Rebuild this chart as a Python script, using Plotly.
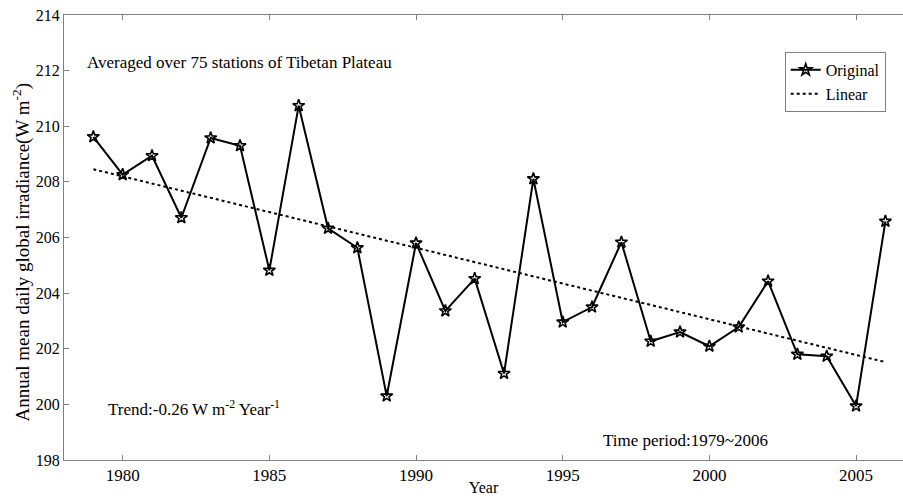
import numpy as np
import plotly.graph_objects as go

# Annual mean daily global irradiance, Tibetan Plateau average (W m-2)
years = list(range(1979, 2007))
irradiance = [
    209.62, 208.26, 208.94, 206.71, 209.58, 209.30, 204.82, 210.74,
    206.33, 205.63, 200.30, 205.80, 203.36, 204.52, 201.11, 208.11,
    202.96, 203.50, 205.83, 202.27, 202.60, 202.09, 202.78, 204.43,
    201.80, 201.73, 199.94, 206.58,
]

y_ticks = [198, 200, 202, 204, 206, 208, 210, 212, 214]
x_ticks = [1980, 1985, 1990, 1995, 2000, 2005]

# least-squares linear trend
slope, intercept = np.polyfit(years, irradiance, 1)
trend = [slope * yr + intercept for yr in years]

FONT = "'Liberation Serif', 'Times New Roman', Times, serif"
AXIS_GRAY = "#7f7f7f"

fig = go.Figure()
fig.add_trace(go.Scatter(
    x=years, y=irradiance, mode="lines+markers", name="Original",
    line=dict(color="black", width=2),
    marker=dict(symbol="star-open", size=9, color="black",
                line=dict(color="black", width=1.6)),
))
fig.add_trace(go.Scatter(
    x=years, y=trend, mode="lines", name="Linear",
    line=dict(color="black", width=2, dash="dot"),
))

fig.add_annotation(text="Averaged over 75 stations of Tibetan Plateau",
                   xref="paper", yref="paper", x=0.025, y=0.894,
                   xanchor="left", yanchor="middle", showarrow=False,
                   font=dict(family=FONT, size=17, color="black"))
fig.add_annotation(text="Trend:-0.26 W m<sup>-2</sup> Year<sup>-1</sup>",
                   xref="paper", yref="paper", x=0.05, y=0.117,
                   xanchor="left", yanchor="middle", showarrow=False,
                   font=dict(family=FONT, size=17, color="black"))
fig.add_annotation(text="Time period:1979~2006",
                   xref="paper", yref="paper", x=0.64, y=0.043,
                   xanchor="left", yanchor="middle", showarrow=False,
                   font=dict(family=FONT, size=17, color="black"))
# y-axis title
fig.add_annotation(text="Annual mean daily global irradiance(W m<sup>-2</sup>)",
                   xref="paper", yref="paper", x=-0.051, y=0.467,
                   xanchor="center", yanchor="middle", textangle=-90,
                   showarrow=False,
                   font=dict(family=FONT, size=19, color="black"))

fig.update_layout(
    width=903, height=496,
    margin=dict(l=64, r=0, t=15, b=36),
    paper_bgcolor="white", plot_bgcolor="white",
    font=dict(family=FONT, size=16, color="black"),
    showlegend=True,
    legend=dict(x=0.859, y=0.917, xanchor="left", yanchor="top",
                bgcolor="white", bordercolor=AXIS_GRAY, borderwidth=1,
                font=dict(family=FONT, size=16, color="black"),
                tracegroupgap=0, itemwidth=30),
    xaxis=dict(
        range=[1978, 2006.6], tickvals=x_ticks,
        ticks="inside", ticklen=5, tickcolor=AXIS_GRAY, tickwidth=1,
        showline=True, linecolor=AXIS_GRAY, linewidth=1, mirror="ticks",
        showgrid=False, zeroline=False,
        tickfont=dict(family=FONT, size=17, color="black"),
        title=dict(text="Year", standoff=0,
                   font=dict(family=FONT, size=16, color="black")),
    ),
    yaxis=dict(
        range=[198, 214], tickvals=y_ticks,
        ticks="inside", ticklen=5, tickcolor=AXIS_GRAY, tickwidth=1,
        showline=True, linecolor=AXIS_GRAY, linewidth=1,
        showgrid=False, zeroline=False,
        tickfont=dict(family=FONT, size=16, color="black"),
    ),
)

fig.write_html("out.html")
